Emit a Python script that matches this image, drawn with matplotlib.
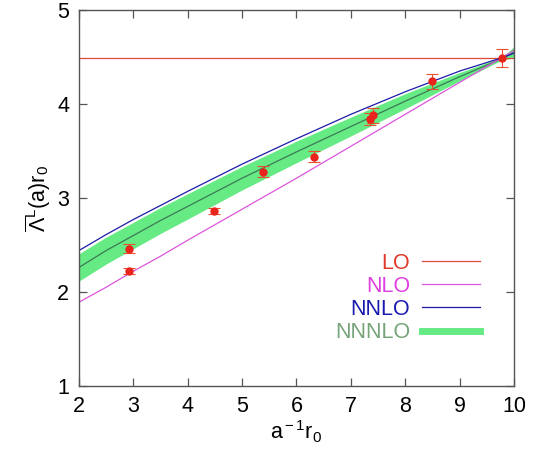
import numpy as np
import matplotlib.pyplot as plt
from matplotlib.lines import Line2D

plt.rcParams['font.family'] = ['Liberation Sans', 'DejaVu Sans']
plt.rcParams['mathtext.fontset'] = 'custom'
plt.rcParams['mathtext.rm'] = 'Liberation Sans'
plt.rcParams['mathtext.it'] = 'Liberation Sans'

# lattice data
x_data = [2.93, 2.93, 4.48, 5.38, 6.32, 7.35, 7.40, 8.50, 9.77]
y_data = [2.46, 2.22, 2.86, 3.28, 3.44, 3.84, 3.88, 4.24, 4.49]
y_err = [0.05, 0.03, 0.03, 0.06, 0.06, 0.06, 0.08, 0.08, 0.10]

# perturbative curves
x_curve = [2, 2.5, 3, 3.5, 4, 5, 6, 7, 8, 9, 9.77, 10]
lo = [4.49] * len(x_curve)
nlo = [1.89, 2.05, 2.22, 2.38, 2.55, 2.88, 3.21, 3.55, 3.89, 4.23, 4.49, 4.57]
nnlo = [2.44, 2.61, 2.77, 2.92, 3.07, 3.36, 3.63, 3.89, 4.13, 4.35, 4.49, 4.54]
nnnlo = [2.26, 2.44, 2.60, 2.76, 2.91, 3.21, 3.49, 3.76, 4.03, 4.29, 4.48, 4.55]
nnnlo_err = [0.145, 0.143, 0.14, 0.138, 0.135, 0.125, 0.115, 0.10, 0.08, 0.045, 0.015, 0.06]

c_lo = '#e04a3a'
c_nlo = '#dd55dd'
c_nnlo = '#1c1ca8'
c_band = '#66ea84'
c_center = '#3c7a55'

fig = plt.figure(figsize=(5.4, 4.53), dpi=100)
ax = fig.add_axes([0.146, 0.148, 0.806, 0.830])

lo_band = np.array(nnnlo) - np.array(nnnlo_err)
hi_band = np.array(nnnlo) + np.array(nnnlo_err)
ax.fill_between(x_curve, lo_band, hi_band, color=c_band, lw=0, zorder=1)
ax.plot(x_curve, nnnlo, color=c_center, lw=0.9, zorder=2)
ax.plot(x_curve, lo, color=c_lo, lw=0.9, zorder=2)
ax.plot(x_curve, nlo, color=c_nlo, lw=0.9, zorder=2)
ax.plot(x_curve, nnlo, color=c_nnlo, lw=0.9, zorder=2)

ax.errorbar(x_data, y_data, yerr=y_err, fmt='o', color='#e8241c', ms=5,
            ecolor='#e8502c', elinewidth=0.8, capsize=4, capthick=0.8, zorder=3)

ax.set_xlim(2, 10)
ax.set_ylim(1, 5)
ax.set_xticks(range(2, 11))
ax.set_yticks(range(1, 6))
ax.tick_params(direction='in', length=6, width=0.9, color='#555555',
               top=True, right=True, labelsize=15.5, pad=7)
for s in ax.spines.values():
    s.set_color('#555555')
    s.set_linewidth(1.0)

ax.set_xlabel(r'a$^{\rm -1}$r$_{\rm 0}$', fontsize=15.5, labelpad=1)
ax.set_ylabel(r'$\overline{\mathrm{\Lambda}}^{\rm L}$(a)r$_{\rm 0}$', fontsize=15.5, labelpad=3)

handles = [Line2D([], [], color=c_lo, lw=0.9),
           Line2D([], [], color=c_nlo, lw=0.9),
           Line2D([], [], color=c_nnlo, lw=0.9),
           Line2D([], [], color=c_band, lw=5)]
labels = ['LO', 'NLO', 'NNLO', 'NNNLO']
leg = ax.legend(handles, labels, loc='lower right', bbox_to_anchor=(0.922, 0.114),
                frameon=False, markerfirst=False, fontsize=15.5, handlelength=2.7,
                handletextpad=0.55, labelspacing=0.1, borderpad=0, borderaxespad=0)
for t, c in zip(leg.get_texts(), ['#e03a2a', '#e040e0', '#1a1ab0', '#76a478']):
    t.set_color(c)

fig.savefig('out.png', dpi=100)
